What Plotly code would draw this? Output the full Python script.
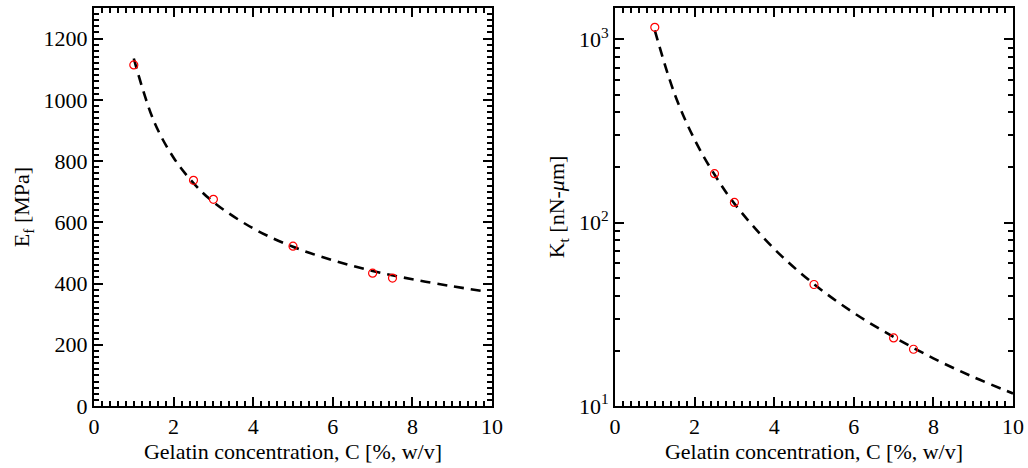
import plotly.graph_objects as go

# Measured data: gelatin concentration (% w/v)
conc = [1.0, 2.5, 3.0, 5.0, 7.0, 7.5]
modulus_mpa = [1114, 737, 675, 522, 434, 418]          # E_f [MPa]
stiffness = [1163, 185, 129, 46, 23.5, 20.4]           # K_t [nN-um]

# Fitted power-law curves, sampled along C
fit_conc_e = [1.0, 1.5, 2.0, 2.5, 3.0, 4.0, 5.0, 6.0, 7.0, 8.0, 9.0, 9.75]
fit_modulus = [1135, 932, 811, 728, 666, 580, 520, 476, 441, 414, 391, 376]
fit_conc_k = [1.0, 1.5, 2.0, 2.5, 3.0, 4.0, 5.0, 6.0, 7.0, 8.0, 9.0, 10.0]
fit_stiffness = [1120, 502, 284, 183, 127, 72, 46.2, 32.2, 23.8, 18.2, 14.4, 11.7]

x_ticks = [0, 2, 4, 6, 8, 10]
e_ticks = [0, 200, 400, 600, 800, 1000, 1200]
k_ticks = [10, 100, 1000]
k_ticktext = ["10<sup>1</sup>", "10<sup>2</sup>", "10<sup>3</sup>"]

FONT = "Liberation Serif"
W, H = 1028, 468

fig = go.Figure()

line_style = dict(color="black", width=2.6, dash="10px,7px")
marker_style = dict(symbol="circle-open", size=8, color="red", line=dict(color="red", width=1.2))

fig.add_trace(go.Scatter(x=fit_conc_e, y=fit_modulus, mode="lines", line_shape="spline",
                         line=line_style, xaxis="x", yaxis="y", showlegend=False))
fig.add_trace(go.Scatter(x=conc, y=modulus_mpa, mode="markers", marker=marker_style,
                         xaxis="x", yaxis="y", showlegend=False))
fig.add_trace(go.Scatter(x=fit_conc_k, y=fit_stiffness, mode="lines", line_shape="spline",
                         line=line_style, xaxis="x2", yaxis="y2", showlegend=False))
fig.add_trace(go.Scatter(x=conc, y=stiffness, mode="markers", marker=marker_style,
                         xaxis="x2", yaxis="y2", showlegend=False))

ydom = [(H - 406) / H, (H - 8) / H]

common = dict(
    showline=True, linecolor="black", linewidth=2, mirror="allticks",
    ticks="inside", ticklen=9, tickwidth=2, tickcolor="black",
    showgrid=False, zeroline=False, automargin=False,
    tickfont=dict(family=FONT, size=22, color="black"),
)
xminor = dict(ticks="inside", ticklen=5, tickwidth=1.5, tickcolor="black", dtick=0.2, showgrid=False)
title_font = dict(family=FONT, size=22, color="black")

fig.update_layout(
    width=W, height=H,
    margin=dict(l=0, r=0, t=0, b=0),
    paper_bgcolor="white", plot_bgcolor="white",
    xaxis=dict(common, domain=[94 / W, 492 / W], range=[0, 10], tickvals=x_ticks,
               anchor="y", minor=xminor,
               title=dict(text="Gelatin concentration, C [%, w/v]", font=title_font, standoff=4)),
    yaxis=dict(common, domain=ydom, range=[0, 1300], tickvals=e_ticks, anchor="x",
               minor=dict(ticks="inside", ticklen=5, tickwidth=1.5, tickcolor="black", dtick=20, showgrid=False),
               title=dict(text="E<sub>f</sub> [MPa]", font=title_font, standoff=8)),
    xaxis2=dict(common, domain=[615 / W, 1013 / W], range=[0, 10], tickvals=x_ticks,
                anchor="y2", minor=xminor,
                title=dict(text="Gelatin concentration, C [%, w/v]", font=title_font, standoff=4)),
    yaxis2=dict(common, domain=ydom, type="log", range=[1, 3.171], tickvals=k_ticks,
                ticktext=k_ticktext, anchor="x2",
                minor=dict(ticks="inside", ticklen=5, tickwidth=1.5, tickcolor="black", dtick="D1", showgrid=False),
                title=dict(text="K<sub>t</sub> [nN-<i>μ</i>m]", font=title_font, standoff=8)),
)

fig.write_html("out.html")
